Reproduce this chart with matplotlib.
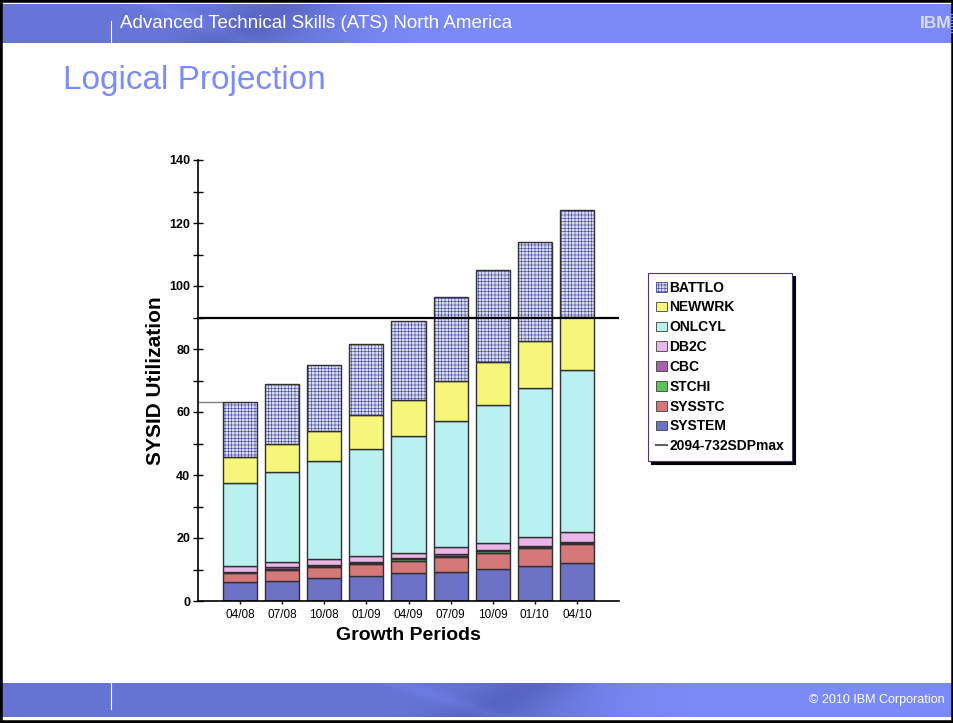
import numpy as np
import matplotlib
matplotlib.use('Agg')
import matplotlib.pyplot as plt
from matplotlib.patches import Patch, Rectangle
from matplotlib.lines import Line2D

plt.rcParams['font.family'] = ['Liberation Sans', 'DejaVu Sans']
plt.rcParams['hatch.linewidth'] = 0.4

# períodos de crescimento e utilização por workload (empilhado, de baixo para cima)
periodos = ['04/08', '07/08', '10/08', '01/09', '04/09', '07/09', '10/09', '01/10', '04/10']
system = [6.1, 6.4, 7.2, 7.9, 8.8, 9.3, 10.1, 11.2, 12.2]
sysstc = [2.7, 3.4, 3.5, 3.7, 3.9, 4.6, 5.2, 5.5, 5.9]
stchi = [0.3, 0.5, 0.3, 0.4, 0.5, 0.5, 0.5, 0.5, 0.4]
cbc = [0.2, 0.6, 0.3, 0.3, 0.4, 0.4, 0.4, 0.4, 0.3]
db2c = [1.8, 1.4, 1.9, 2.0, 1.7, 2.2, 2.1, 2.6, 3.2]
onlcyl = [26.3, 28.6, 31.2, 33.9, 37.1, 40.1, 43.9, 47.4, 51.4]
newwrk = [8.2, 9.0, 9.7, 10.8, 11.4, 12.7, 13.6, 14.9, 16.7]
battlo = [17.6, 19.0, 20.7, 22.5, 25.0, 26.7, 29.2, 31.5, 34.0]
sdp_max = 90  # capacidade 2094-732SDPmax

series = [('SYSTEM', system, '#6e72c6'),
          ('SYSSTC', sysstc, '#d4787a'),
          ('STCHI', stchi, '#5cc45c'),
          ('CBC', cbc, '#a860b0'),
          ('DB2C', db2c, '#eab6ea'),
          ('ONLCYL', onlcyl, '#b9f1f1'),
          ('NEWWRK', newwrk, '#f6f67a'),
          ('BATTLO', battlo, '#d9dbf0')]

W, H = 954, 723
fig = plt.figure(figsize=(W / 100, H / 100), dpi=100)
fig.patch.set_facecolor('white')


def faixa(largura, altura, centro, escura):
    # faixa azul do slide com o "swoosh" mais escuro à esquerda
    X, Y = np.meshgrid(np.linspace(0, 1, largura), np.linspace(0, 1, altura))
    base = np.array([0x7b, 0x8b, 0xf7]) / 255
    dark = np.array([0x50, 0x5c, 0xb4]) / 255
    peso = escura / (1 + np.exp((X - centro) / 0.03))
    peso = peso + 0.35 * np.exp(-((X - centro + 0.06 + 0.06 * Y) / 0.05) ** 2)
    peso = peso - 0.18 * np.exp(-((X - centro + 0.2 - 0.1 * Y) / 0.02) ** 2)
    peso = np.clip(peso, 0, 1)[..., None]
    return base * (1 - peso) + dark * peso


# cabeçalho
axh = fig.add_axes([0, 1 - 43 / H, 1, 39 / H])
axh.imshow(faixa(W, 39, 0.36, 0.45), aspect='auto', extent=(0, 1, 0, 1))
axh.axis('off')
fig.text(120 / W, 1 - 24 / H, 'Advanced Technical Skills (ATS) North America',
         color='white', fontsize=13.5, va='center')
fig.add_artist(Line2D([111 / W, 111 / W], [1 - 21 / H, 1 - 43 / H], color='white',
                      lw=0.8, transform=fig.transFigure))
# logotipo listrado
fig.text(920 / W, 1 - 23 / H, 'IBM', color='#d6dcf6', fontsize=12.5, fontweight='bold',
         va='center', ha='left')
for yy in range(14, 33, 3):
    fig.add_artist(Line2D([915 / W, 1], [1 - yy / H, 1 - yy / H], color='#7b8bf7',
                          lw=1.0, transform=fig.transFigure))

# rodapé
axf = fig.add_axes([0, 1 - 717 / H, 1, 34 / H])
axf.imshow(faixa(W, 34, 0.62, 0.5), aspect='auto', extent=(0, 1, 0, 1))
axf.axis('off')
fig.add_artist(Line2D([111 / W, 111 / W], [1 - 683 / H, 1 - 709 / H], color='white',
                      lw=0.8, transform=fig.transFigure))
fig.text(945 / W, 1 - 700 / H, '\u00a9 2010 IBM Corporation', color='white',
         fontsize=9, ha='right', va='center')

fig.text(63 / W, 1 - 80 / H, 'Logical Projection', color='#7b8bf7', fontsize=24,
         va='center')

# gráfico de barras empilhadas
ax = fig.add_axes([198 / W, 1 - 601 / H, 421 / W, 441 / H])
x = np.arange(len(periodos))
largura = 0.81
base = np.zeros(len(periodos))
for nome, vals, cor in series:
    vals = np.array(vals)
    if nome == 'BATTLO':
        ax.bar(x, vals, largura, bottom=base, color=cor, edgecolor='#3a4298',
               hatch='+++++', linewidth=0, zorder=2)
        ax.bar(x, vals, largura, bottom=base, fill=False, edgecolor='#303030',
               linewidth=1.0, zorder=3)
    else:
        ax.bar(x, vals, largura, bottom=base, color=cor, edgecolor='#303030',
               linewidth=1.0, zorder=2)
    base = base + vals

xmin, xmax = -1.0, 9.0
ax.axhline(sdp_max, color='black', lw=1.6, zorder=4)
ax.hlines(base[0], xmin, -largura / 2, color='#808080', lw=1.0, zorder=1)

ax.set_xlim(xmin, xmax)
ax.set_ylim(0, 140)
ax.set_yticks(np.arange(0, 141, 20))
ax.set_yticks(np.arange(10, 140, 20), minor=True)
ax.set_xticks(x)
ax.set_xticklabels(periodos, fontsize=8.5)
for t in ax.get_yticklabels():
    t.set_fontweight('bold')
    t.set_fontsize(9)
ax.tick_params(axis='y', which='both', direction='inout', length=7, width=1, pad=2)
ax.tick_params(axis='x', direction='inout', length=5, width=1, pad=3)
for lado in ['top', 'right']:
    ax.spines[lado].set_visible(False)
for lado in ['left', 'bottom']:
    ax.spines[lado].set_linewidth(1.2)

ax.set_ylabel('SYSID Utilization', fontsize=15, fontweight='bold')
ax.yaxis.set_label_coords(-0.1, 0.5)
ax.set_xlabel('Growth Periods', fontsize=14, fontweight='bold')
ax.xaxis.set_label_coords(0.5, -0.079)
ax.xaxis.label.set_va('center')
ax.yaxis.label.set_va('center')

# legenda (ordem de cima para baixo)
handles = []
labels = []
for nome, vals, cor in reversed(series):
    if nome == 'BATTLO':
        handles.append(Patch(facecolor=cor, edgecolor='#3a4298', hatch='+++++', lw=0.6))
    else:
        handles.append(Patch(facecolor=cor, edgecolor='#404040', lw=0.6))
    labels.append(nome)
handles.append(Line2D([], [], color='#606060', lw=1.5))
labels.append('2094-732SDPmax')
leg = ax.legend(handles, labels, loc='upper left', bbox_to_anchor=(648 / W, 1 - 273 / H),
                bbox_transform=fig.transFigure, prop={'weight': 'bold', 'size': 10},
                fancybox=False, shadow={'color': 'black', 'alpha': 1},
                edgecolor='#3c3c78', framealpha=1, handlelength=0.8, handleheight=0.7,
                handletextpad=0.2, labelspacing=0.42, borderpad=0.55, borderaxespad=0)
leg.get_frame().set_linewidth(0.8)

# moldura do slide
fig.add_artist(Rectangle((0, 0), 1, 1, transform=fig.transFigure, fill=False,
                         edgecolor='black', lw=4))

fig.savefig('out.png', dpi=100)
